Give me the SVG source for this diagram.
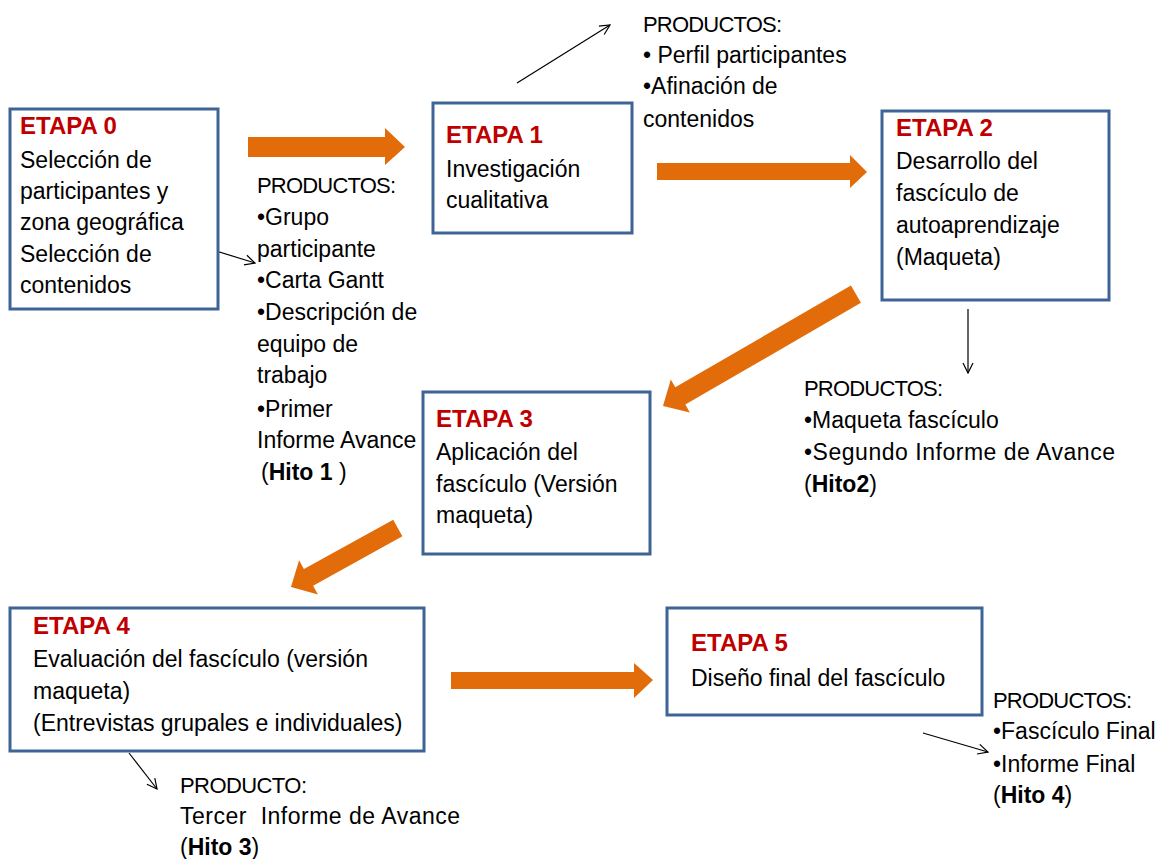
<svg xmlns="http://www.w3.org/2000/svg" width="1158" height="859" viewBox="0 0 1158 859">
<style>
.box{fill:#fff;stroke:#3E6496;stroke-width:3}
.t{font-family:"Liberation Sans",Arial,sans-serif;font-size:23px;fill:#000}
.p{font-family:"Liberation Sans",Arial,sans-serif;font-size:22px;fill:#000}
.h{font-family:"Liberation Sans",Arial,sans-serif;font-size:24px;font-weight:bold;fill:#C00000}
.b{font-weight:bold}
.o{fill:#E36C0A}
.thin{stroke:#000;stroke-width:1.2;fill:none;marker-end:url(#open)}
</style>
<defs>
<marker id="open" viewBox="0 0 12 12" refX="11" refY="6" markerWidth="12" markerHeight="12" markerUnits="userSpaceOnUse" orient="auto">
<path d="M1,1 L11,6 L1,11" fill="none" stroke="#000" stroke-width="1.2"/>
</marker>
</defs>
<rect width="1158" height="859" fill="#fff"/>
<g id="connectors">
<polygon class="o" points="248,137 385,137 385,128 405,147 385,165 385,157 248,157"/>
<polygon class="o" points="657,163 850,163 850,155 867,172 850,188 850,180 657,180"/>
<polygon class="o" points="451,672 634,672 634,663 653,680 634,698 634,689 451,689"/>
<polygon class="o" transform="translate(663,406) rotate(149.9)" points="-223,-10 -20,-10 -20,-19 0,0 -20,19 -20,10 -223,10"/>
<polygon class="o" transform="translate(291,587) rotate(151.1)" points="-122,-9.5 -20,-9.5 -20,-19.5 0,0 -20,19.5 -20,9.5 -122,9.5"/>
<line class="thin" x1="187" y1="242" x2="255" y2="263"/>
<line class="thin" x1="517" y1="83" x2="610" y2="25"/>
<line class="thin" x1="968" y1="309" x2="968" y2="373"/>
<line class="thin" x1="129" y1="753" x2="157" y2="789"/>
<line class="thin" x1="923" y1="733" x2="988" y2="752"/>
</g>
<g id="etapa0">
<rect class="box" x="10" y="109" width="208" height="200"/>
<text class="h" x="20" y="134">ETAPA 0</text>
<text class="t" x="20" y="168">Selección de</text>
<text class="t" x="20" y="199">participantes y</text>
<text class="t" x="20" y="230">zona geográfica</text>
<text class="t" x="20" y="262">Selección de</text>
<text class="t" x="20" y="293">contenidos</text>
</g>
<g id="productos0">
<text class="p" x="257" y="193" textLength="139" lengthAdjust="spacing">PRODUCTOS:</text>
<text class="t" x="257" y="225">•Grupo</text>
<text class="t" x="257" y="257">participante</text>
<text class="t" x="257" y="288">•Carta Gantt</text>
<text class="t" x="257" y="320">•Descripción de</text>
<text class="t" x="257" y="352">equipo de</text>
<text class="t" x="257" y="383">trabajo</text>
<text class="t" x="257" y="417">•Primer</text>
<text class="t" x="257" y="448">Informe Avance</text>
<text class="t" x="261" y="480">(<tspan class="b">Hito 1</tspan> )</text>
</g>
<g id="etapa1">
<rect class="box" x="433" y="103" width="199" height="130"/>
<text class="h" x="446" y="143">ETAPA 1</text>
<text class="t" x="446" y="177">Investigación</text>
<text class="t" x="446" y="208">cualitativa</text>
</g>
<g id="productos1">
<text class="p" x="643" y="32" textLength="139" lengthAdjust="spacing">PRODUCTOS:</text>
<text class="t" x="643" y="63">• Perfil participantes</text>
<text class="t" x="643" y="94">•Afinación de</text>
<text class="t" x="643" y="127">contenidos</text>
</g>
<g id="etapa2">
<rect class="box" x="882" y="111" width="227" height="189"/>
<text class="h" x="896" y="136">ETAPA 2</text>
<text class="t" x="896" y="169">Desarrollo del</text>
<text class="t" x="896" y="201">fascículo de</text>
<text class="t" x="896" y="233">autoaprendizaje</text>
<text class="t" x="896" y="265">(Maqueta)</text>
</g>
<g id="productos2">
<text class="p" x="804" y="396" textLength="139" lengthAdjust="spacing">PRODUCTOS:</text>
<text class="t" x="804" y="428">•Maqueta fascículo</text>
<text class="t" x="804" y="460" textLength="311" lengthAdjust="spacing">•Segundo Informe de Avance</text>
<text class="t" x="804" y="492">(<tspan class="b">Hito2</tspan>)</text>
</g>
<g id="etapa3">
<rect class="box" x="423" y="392" width="227" height="162"/>
<text class="h" x="436" y="427">ETAPA 3</text>
<text class="t" x="436" y="460">Aplicación del</text>
<text class="t" x="436" y="492">fascículo (Versión</text>
<text class="t" x="436" y="523">maqueta)</text>
</g>
<g id="etapa4">
<rect class="box" x="10" y="608" width="414" height="143"/>
<text class="h" x="33" y="634">ETAPA 4</text>
<text class="t" x="33" y="667">Evaluación del fascículo (versión</text>
<text class="t" x="33" y="699">maqueta)</text>
<text class="t" x="33" y="731">(Entrevistas grupales e individuales)</text>
</g>
<g id="producto4">
<text class="p" x="180" y="793" textLength="127" lengthAdjust="spacing">PRODUCTO:</text>
<text class="t" x="180" y="824" textLength="280" lengthAdjust="spacing" xml:space="preserve">Tercer  Informe de Avance</text>
<text class="t" x="180" y="855">(<tspan class="b">Hito 3</tspan>)</text>
</g>
<g id="etapa5">
<rect class="box" x="667" y="608" width="315" height="107"/>
<text class="h" x="691" y="651">ETAPA 5</text>
<text class="t" x="691" y="686">Diseño final del fascículo</text>
</g>
<g id="productos5">
<text class="p" x="993" y="708" textLength="139" lengthAdjust="spacing">PRODUCTOS:</text>
<text class="t" x="993" y="739">•Fascículo Final</text>
<text class="t" x="993" y="772">•Informe Final</text>
<text class="t" x="993" y="803">(<tspan class="b">Hito 4</tspan>)</text>
</g>
</svg>
